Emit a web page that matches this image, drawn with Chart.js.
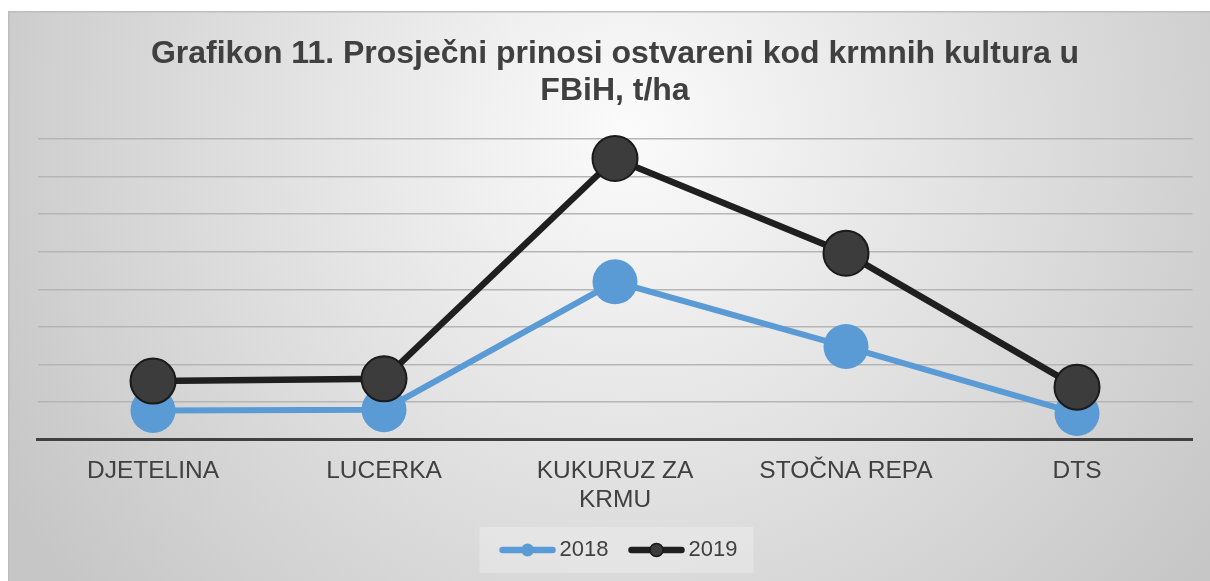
<!DOCTYPE html>
<html>
<head>
<meta charset="utf-8">
<script src="https://cdn.jsdelivr.net/npm/chart.js@4.4.1/dist/chart.umd.min.js"></script>
<style>
  html, body { margin: 0; padding: 0; background: #fff; overflow: hidden; width: 1210px; height: 581px; }
  #wrap { position: absolute; left: 8px; top: 11px; width: 1210px; height: 600px; }
</style>
</head>
<body>
<div id="wrap"><canvas id="chart" width="1210" height="600"></canvas></div>
<script>
// DATA
const categories = ["DJETELINA", "LUCERKA", ["KUKURUZ ZA", "KRMU"], "STOČNA REPA", "DTS"];
const seriesNames = ["2018", "2019"];
const yield2018 = [3.9, 4.0, 21.0, 12.4, 3.5];
const yield2019 = [7.8, 8.1, 37.4, 24.8, 7.0];
const yMax = 40;
const yStep = 5;

const FONT = "'Liberation Sans', Arial, sans-serif";
const BLUE = "#5b9bd5";
const DARK_LINE = "#1f1f1f";
const DARK_FILL = "#3c3c3c";

// legend symbol: line with marker in the middle
function legendSymbol(lineColor, fill, border) {
  const c = document.createElement("canvas");
  c.width = 57;
  c.height = 16;
  const ctx = c.getContext("2d");
  ctx.strokeStyle = lineColor;
  ctx.lineWidth = 6.5;
  ctx.lineCap = "round";
  ctx.beginPath();
  ctx.moveTo(3.5, 8);
  ctx.lineTo(53.5, 8);
  ctx.stroke();
  ctx.beginPath();
  ctx.arc(28.5, 8, 6.5, 0, Math.PI * 2);
  ctx.fillStyle = fill;
  ctx.fill();
  if (border) {
    ctx.lineWidth = 1.5;
    ctx.strokeStyle = border;
    ctx.stroke();
  }
  return c;
}

const backgroundPlugin = {
  id: "frameBg",
  afterUpdate(chart) {
    // nudge legend a little to the right, like the original
    const l = chart.legend;
    if (!l) return;
    l.left += 7;
    l.right += 7;
    (l.legendHitBoxes || []).forEach(b => (b.left += 7));
  },
  beforeDraw(chart) {
    const ctx = chart.ctx;
    const w = chart.width, h = chart.height;
    ctx.save();
    const g = ctx.createRadialGradient(620, 120, 0, 620, 120, 720);
    g.addColorStop(0, "#fbfbfb");
    g.addColorStop(1, "#c6c6c6");
    ctx.fillStyle = g;
    ctx.fillRect(0, 0, w, h);
    // frame border (top and left visible)
    ctx.strokeStyle = "#bdbdbd";
    ctx.lineWidth = 1.5;
    ctx.beginPath();
    ctx.moveTo(0.75, h);
    ctx.lineTo(0.75, 0.75);
    ctx.lineTo(w, 0.75);
    ctx.stroke();
    // legend background
    const boxes = chart.legend && chart.legend.legendHitBoxes;
    if (boxes && boxes.length) {
      const left = Math.min(...boxes.map(b => b.left));
      const right = Math.max(...boxes.map(b => b.left + b.width));
      const mid = boxes[0].top + boxes[0].height / 2;
      ctx.fillStyle = "rgba(255,255,255,0.25)";
      ctx.fillRect(left - 27, mid - 23, right - left + 43, 46);
    }
    ctx.restore();
  }
};

new Chart(document.getElementById("chart"), {
  type: "line",
  data: {
    labels: categories,
    datasets: [
      {
        label: seriesNames[0],
        data: yield2018,
        borderColor: BLUE,
        backgroundColor: BLUE,
        borderWidth: 6,
        pointRadius: 22.5,
        pointBackgroundColor: BLUE,
        pointBorderColor: BLUE,
        pointBorderWidth: 0,
        clip: false,
        order: 1,
        legendSymbol: legendSymbol(BLUE, BLUE, null)
      },
      {
        label: seriesNames[1],
        data: yield2019,
        borderColor: DARK_LINE,
        backgroundColor: DARK_FILL,
        borderWidth: 6.5,
        pointRadius: 22.5,
        pointBackgroundColor: DARK_FILL,
        pointBorderColor: "#1a1a1a",
        pointBorderWidth: 2,
        clip: false,
        order: 0,
        legendSymbol: legendSymbol(DARK_LINE, DARK_FILL, "#1a1a1a")
      }
    ]
  },
  options: {
    responsive: false,
    animation: false,
    devicePixelRatio: 1,
    layout: { padding: { left: 29.5, right: 25.5, top: 0, bottom: 40 } },
    elements: { line: { tension: 0 } },
    scales: {
      x: {
        offset: true,
        grid: { display: false, drawTicks: false },
        border: { display: true, color: "#404040", width: 3 },
        ticks: {
          color: "#404040",
          font: { family: FONT, size: 24.5, lineHeight: 1.18 },
          padding: 17,
          maxRotation: 0,
          autoSkip: false
        },
        afterFit(scale) {
          scale.height = 72.2;
        }
      },
      y: {
        min: 0,
        max: yMax,
        ticks: { display: false, stepSize: yStep },
        grid: { color: "#b5b5b5", lineWidth: 1.5, drawTicks: false },
        border: { display: false }
      }
    },
    plugins: {
      title: {
        display: true,
        text: ["Grafikon 11. Prosječni prinosi ostvareni kod krmnih kultura u", "FBiH, t/ha"],
        color: "#404040",
        font: { family: FONT, size: 32, weight: "bold", lineHeight: 1.17 },
        padding: { top: 24, bottom: 29 }
      },
      legend: {
        position: "bottom",
        labels: {
          usePointStyle: true,
          pointStyleWidth: 42,
          padding: 27,
          color: "#404040",
          font: { family: FONT, size: 22 },
          generateLabels(chart) {
            return chart.data.datasets.map((ds, i) => ({
              text: ds.label,
              pointStyle: ds.legendSymbol,
              fillStyle: ds.backgroundColor,
              strokeStyle: ds.borderColor,
              lineWidth: 0,
              hidden: false,
              datasetIndex: i,
              fontColor: "#404040"
            }));
          }
        }
      },
      tooltip: { enabled: false }
    }
  },
  plugins: [backgroundPlugin]
});
</script>
</body>
</html>
